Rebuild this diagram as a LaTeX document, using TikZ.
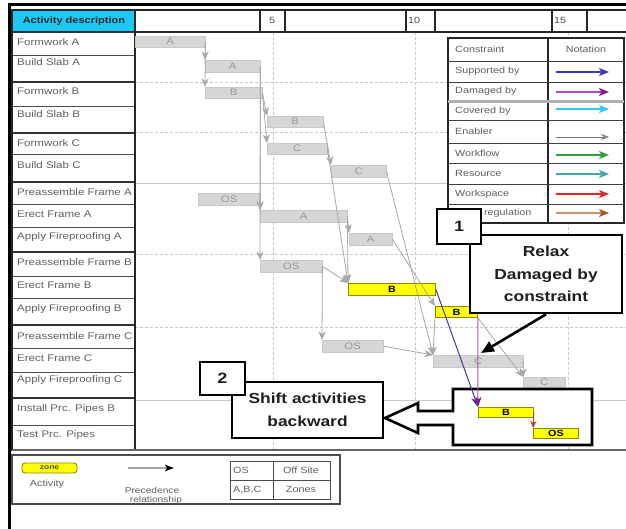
\documentclass[tikz,border=0pt]{standalone}
\usepackage{fontspec}
\setmainfont{Liberation Sans}[FakeStretch=1.2]
\usetikzlibrary{arrows.meta}

\definecolor{hdrcyan}{HTML}{1EC8F4}
\definecolor{barfill}{HTML}{D6D6D6}
\definecolor{baredge}{HTML}{C8C8C8}
\definecolor{actyellow}{HTML}{FFFF00}
\definecolor{actedge}{HTML}{8A8A00}
\definecolor{precgray}{HTML}{A8A8A8}
\definecolor{supblue}{HTML}{3A3AB8}
\definecolor{dammag}{HTML}{B050B0}
\definecolor{damhead}{HTML}{8A1A8A}
\definecolor{covcyan}{HTML}{30C8F0}
\definecolor{wfgreen}{HTML}{30A040}
\definecolor{resteal}{HTML}{40A8A8}
\definecolor{wsred}{HTML}{E02828}
\definecolor{regbrown}{HTML}{C89070}
\definecolor{reghead}{HTML}{A05A28}
\definecolor{seqbrown}{HTML}{B04418}
\definecolor{txtgray}{HTML}{606060}
\definecolor{gridgray}{HTML}{C8C8C8}

\newcommand{\fsz}[1]{\fontsize{#1}{#1}\selectfont}

\begin{document}
\begin{tikzpicture}[x=1pt,y=-1pt,
  rowtxt/.style={anchor=west, inner sep=0, font=\fsz{9.6}, text=txtgray},
  legtxt/.style={anchor=west, inner sep=0, font=\fsz{9}, text=txtgray},
  ctrtxt/.style={inner sep=0, font=\fsz{9}, text=txtgray},
  gbar/.style={anchor=north west, inner sep=0, fill=barfill, draw=baredge, line width=0.4, font=\fsz{9.5}, text=black!40},
  ybar/.style={anchor=north west, inner sep=0, fill=actyellow, draw=actedge, line width=0.9, font=\fsz{9}\bfseries, text=black},
  prec/.style={draw=precgray, line width=0.8, -{Stealth[length=8.5pt,width=7pt,inset=2.5pt]}},
  legarrow/.style={line width=1.4, -{Stealth[length=10pt,width=8pt,inset=2.5pt]}},
  callbox/.style={draw=black, line width=2.6, fill=white, inner sep=0, font=\fontsize{14.5}{22.5}\selectfont\bfseries, text=black!88, align=center},
  numbox/.style={draw=black, line width=2.6, fill=white, inner sep=0, font=\fsz{15}\bfseries, text=black!88},
  rowline/.style={draw=black!70, line width=0.8},
  grpline/.style={draw=black!80, line width=2},
  gridh/.style={draw=gridgray, line width=0.6, dashed, dash pattern=on 3pt off 2pt},
]
\useasboundingbox (0,0) rectangle (626,529);
\fill[white] (0,0) rectangle (626,529);

% ---------- time grid ----------
\foreach \xx in {273,415,568} \draw[gridh] (\xx,32) -- (\xx,450);
\foreach \yy in {82,132,254,327} \draw[gridh] (135,\yy) -- (626,\yy);
\foreach \yy in {183,400} \draw[draw=gridgray, line width=0.9] (135,\yy) -- (626,\yy);

% ---------- header row ----------
\draw[draw=black!85, line width=1.3] (135,10) rectangle (628,32);
\foreach \xx in {260,285,406,435,552,587} \draw[draw=black!85, line width=1.3] (\xx,10) -- (\xx,32);
\node[ctrtxt, text=black!70] (d5) at (272,20) {5};
\node[ctrtxt, text=black!70] (d10) at (414,20) {10};
\node[ctrtxt, text=black!70] (d15) at (560,20) {15};

% ---------- activity list ----------
\fill[hdrcyan] (12,10) rectangle (135,32);
\node[inner sep=0, font=\fsz{9.2}\bfseries, text=black!85] (hdr) at (74,21) {Activity description};
\foreach \yy in {55,106,154,204,227,276,298,348,372,425} \draw[rowline] (12,\yy) -- (135,\yy);
\foreach \yy in {32,82,133,182,252,325,398} \draw[grpline] (12,\yy) -- (135,\yy);
\draw[draw=black!85, line width=1.8] (12,10) rectangle (135,450);

\node[rowtxt] (r1)  at (17,42)  {Formwork A};
\node[rowtxt] (r2)  at (17,62)  {Build Slab A};
\node[rowtxt] (r3)  at (17,91)  {Formwork B};
\node[rowtxt] (r4)  at (17,114) {Build Slab B};
\node[rowtxt] (r5)  at (17,143) {Formwork C};
\node[rowtxt] (r6)  at (17,165) {Build Slab C};
\node[rowtxt] (r7)  at (17,192) {Preassemble Frame A};
\node[rowtxt] (r8)  at (17,214) {Erect Frame A};
\node[rowtxt] (r9)  at (17,237) {Apply Fireproofing A};
\node[rowtxt] (r10) at (17,262) {Preassemble Frame B};
\node[rowtxt] (r11) at (17,285) {Erect Frame B};
\node[rowtxt] (r12) at (17,309) {Apply Fireproofing B};
\node[rowtxt] (r13) at (17,336) {Preassemble Frame C};
\node[rowtxt] (r14) at (17,358) {Erect Frame C};
\node[rowtxt] (r15) at (17,380) {Apply Fireproofing C};
\node[rowtxt] (r16) at (17,409) {Install Prc. Pipes B};
\node[rowtxt] (r17) at (17,435) {Test Prc. Pipes};

% bottom rule of the schedule
\draw[draw=black!60, line width=1.6] (12,450) -- (626,450);

% ---------- activity bars ----------
\node[gbar, minimum width=70pt, minimum height=11pt] (fa)  at (135,36)  {A};
\node[gbar, minimum width=55pt, minimum height=12pt] (bsa) at (205,60)  {A};
\node[gbar, minimum width=57pt, minimum height=11pt] (fb)  at (205,87)  {B};
\node[gbar, minimum width=56pt, minimum height=11pt] (bsb) at (267,116) {B};
\node[gbar, minimum width=60pt, minimum height=11pt] (fc)  at (267,143) {C};
\node[gbar, minimum width=55pt, minimum height=12pt] (bsc) at (331,165) {C};
\node[gbar, minimum width=62pt, minimum height=12pt] (pfa) at (198,193) {OS};
\node[gbar, minimum width=87pt, minimum height=12pt] (efa) at (260,210) {A};
\node[gbar, minimum width=43pt, minimum height=12pt] (afa) at (349,233) {A};
\node[gbar, minimum width=62pt, minimum height=12pt] (pfb) at (260,260) {OS};
\node[ybar, minimum width=87pt, minimum height=12pt] (efb) at (348,283) {B};
\node[ybar, minimum width=42pt, minimum height=11pt] (afb) at (435,306) {B};
\node[gbar, minimum width=61pt, minimum height=12pt] (pfc) at (322,340) {OS};
\node[gbar, minimum width=90pt, minimum height=12pt] (efc) at (433,355) {C};
\node[gbar, minimum width=42pt, minimum height=11pt] (afc) at (523,377) {C};

% ---------- precedence links ----------
\draw[prec] (fa.east) -- (bsa.north west);
\draw[prec] (fa.east) -- (fb.north west);
\draw[prec] (bsa.east) -- (efa.north west);
\draw[prec] (bsa.east) -- (pfb.north west);
\draw[prec] (fb.east) -- (bsb.north west);
\draw[prec] (fb.east) -- (fc.north west);
\draw[prec] (bsb.east) -- (bsc.north west);
\draw[prec] (fc.east) -- (efb.north west);
\draw[prec] (bsc.east) -- (efc.north west);
\draw[prec] (pfa.east) -- (efa.north west);
\draw[prec] (efa.east) -- (afa.north west);
\draw[prec] (efa.east) -- (efb.north west);
\draw[prec] (afa.east) -- (afb.north west);
\draw[prec] (pfb.east) -- (efb.north west);
\draw[prec] (pfb.east) -- (pfc.north west);
\draw[prec] (pfc.east) -- (efc.north west);
\draw[prec] (afb.south west) -- (efc.north west);
\draw[prec] (afb.south east) -- (afc.north west);
\draw[prec] (efc.east) -- (afc.north west);

% ---------- constraint legend ----------
\draw[fill=white, draw=black!85, line width=1.2] (448,38) rectangle (624,223);
\draw[draw=black!85, line width=1.2] (548,38) -- (548,223);
\foreach \yy in {61,82,120,143,163,184,204} \draw[draw=black!75, line width=0.9] (448,\yy) -- (624,\yy);
\draw[draw=black!30, line width=3] (448,102) -- (624,102);
\node[legtxt] (lh1) at (455,49.5) {Constraint};
\node[ctrtxt] (lh2) at (586,49.5) {Notation};
\node[legtxt] (l1) at (455,71.5)  {Supported by};
\node[legtxt] (l2) at (455,91.5)  {Damaged by};
\node[legtxt] (l3) at (455,111)   {Covered by};
\node[legtxt] (l4) at (455,131.5) {Enabler};
\node[legtxt] (l5) at (455,153)   {Workflow};
\node[legtxt] (l6) at (455,173.5) {Resource};
\node[legtxt] (l7) at (455,194)   {Workspace};
\node[legtxt] (l8) at (455,213.5) {Code regulation};
\foreach \i/\yy in {1/72,2/92,3/109,4/137,5/155,6/174,7/194,8/213} {
  \coordinate (ls\i) at (556,\yy);
  \coordinate (le\i) at (609,\yy);
}
\draw[legarrow, supblue] (ls1) -- (le1);
\draw[legarrow, dammag, -{Stealth[length=10pt,width=8pt,inset=2.5pt,damhead]}] (ls2) -- (le2);
\draw[legarrow, covcyan] (ls3) -- (le3);
\draw[line width=0.8, black!55, -{Stealth[length=8pt,width=6pt,inset=3pt,open]}] (ls4) -- (le4);
\draw[legarrow, wfgreen] (ls5) -- (le5);
\draw[legarrow, resteal] (ls6) -- (le6);
\draw[legarrow, wsred] (ls7) -- (le7);
\draw[legarrow, regbrown, -{Stealth[length=10pt,width=8pt,inset=2.5pt,reghead]}] (ls8) -- (le8);

% ---------- shifted group with block arrow ----------
\draw[draw=black, line width=2.6, fill=white, line join=miter]
  (453,411) -- (453,389) -- (592,389) -- (592,445) -- (453,445) -- (453,425)
  -- (418,425) -- (418,433) -- (385,418) -- (418,403) -- (418,411) -- cycle;
\node[ybar, minimum width=55pt, minimum height=10pt] (ipb) at (478,407) {B};
\node[ybar, minimum width=45pt, minimum height=10pt] (tpp) at (533,428) {OS};

% ---------- constraint links ----------
\draw[line width=1, supblue, -{Stealth[length=10pt,width=7pt,inset=2.5pt]}] (efb.east) -- (ipb.north west);
\draw[line width=1, dammag, -{Stealth[length=10pt,width=7pt,inset=2.5pt,damhead]}] (afb.south east) -- (ipb.north west);
\draw[line width=1, seqbrown, -{Stealth[length=7pt,width=6pt,inset=2pt]}] (ipb.east) -- (tpp.north west);

% ---------- callouts ----------
\node[callbox, minimum width=152pt, minimum height=78pt] (relax) at (546,274) {Relax\\Damaged by\\constraint};
\node[numbox, minimum width=44pt, minimum height=35pt] (n1) at (459,226.5) {1};
\coordinate (tip) at (481,353);
\draw[line width=2.6, black, -{Triangle[length=13pt,width=11pt]}] (relax.south) -- (tip);

\node[callbox, minimum width=151pt, minimum height=56pt] (shift) at (307.5,410) {Shift activities\\backward};
\node[numbox, minimum width=45pt, minimum height=33pt] (n2) at (222.5,378.5) {2};

% ---------- symbol key ----------
\draw[draw=black!70, line width=1.8] (12,455) rectangle (340,504);
\node[ybar, anchor=center, rounded corners=3pt, minimum width=55pt, minimum height=10pt, font=\fsz{7}\bfseries, text=black!70] (kact) at (49.5,468) {zone};
\node[ctrtxt] (kactl) at (47,484) {Activity};
\coordinate (kp1) at (128,468);
\coordinate (kp2) at (174,468);
\draw[line width=1.6, black!35, -{Stealth[length=9pt,width=6.5pt,inset=2pt,black]}] (kp1) -- (kp2);
\node[ctrtxt, font=\fsz{8.5}] (kpl1) at (152,490) {Precedence};
\node[ctrtxt, font=\fsz{8.5}] (kpl2) at (156,500) {relationship};
\draw[draw=black!70, line width=1] (230,461) rectangle (330,499);
\draw[draw=black!70, line width=1] (273,461) -- (273,499);
\draw[draw=black!70, line width=1] (230,480) -- (330,480);
\node[legtxt] (kos) at (233,470.5) {OS};
\node[ctrtxt] (kosl) at (301,470.5) {Off Site};
\node[legtxt] (kz) at (233,489.5) {A,B,C};
\node[ctrtxt] (kzl) at (301,489.5) {Zones};

% ---------- outer frame ----------
\draw[black, line width=3] (9,529) -- (9,5) -- (626,5);
\end{tikzpicture}
\end{document}
